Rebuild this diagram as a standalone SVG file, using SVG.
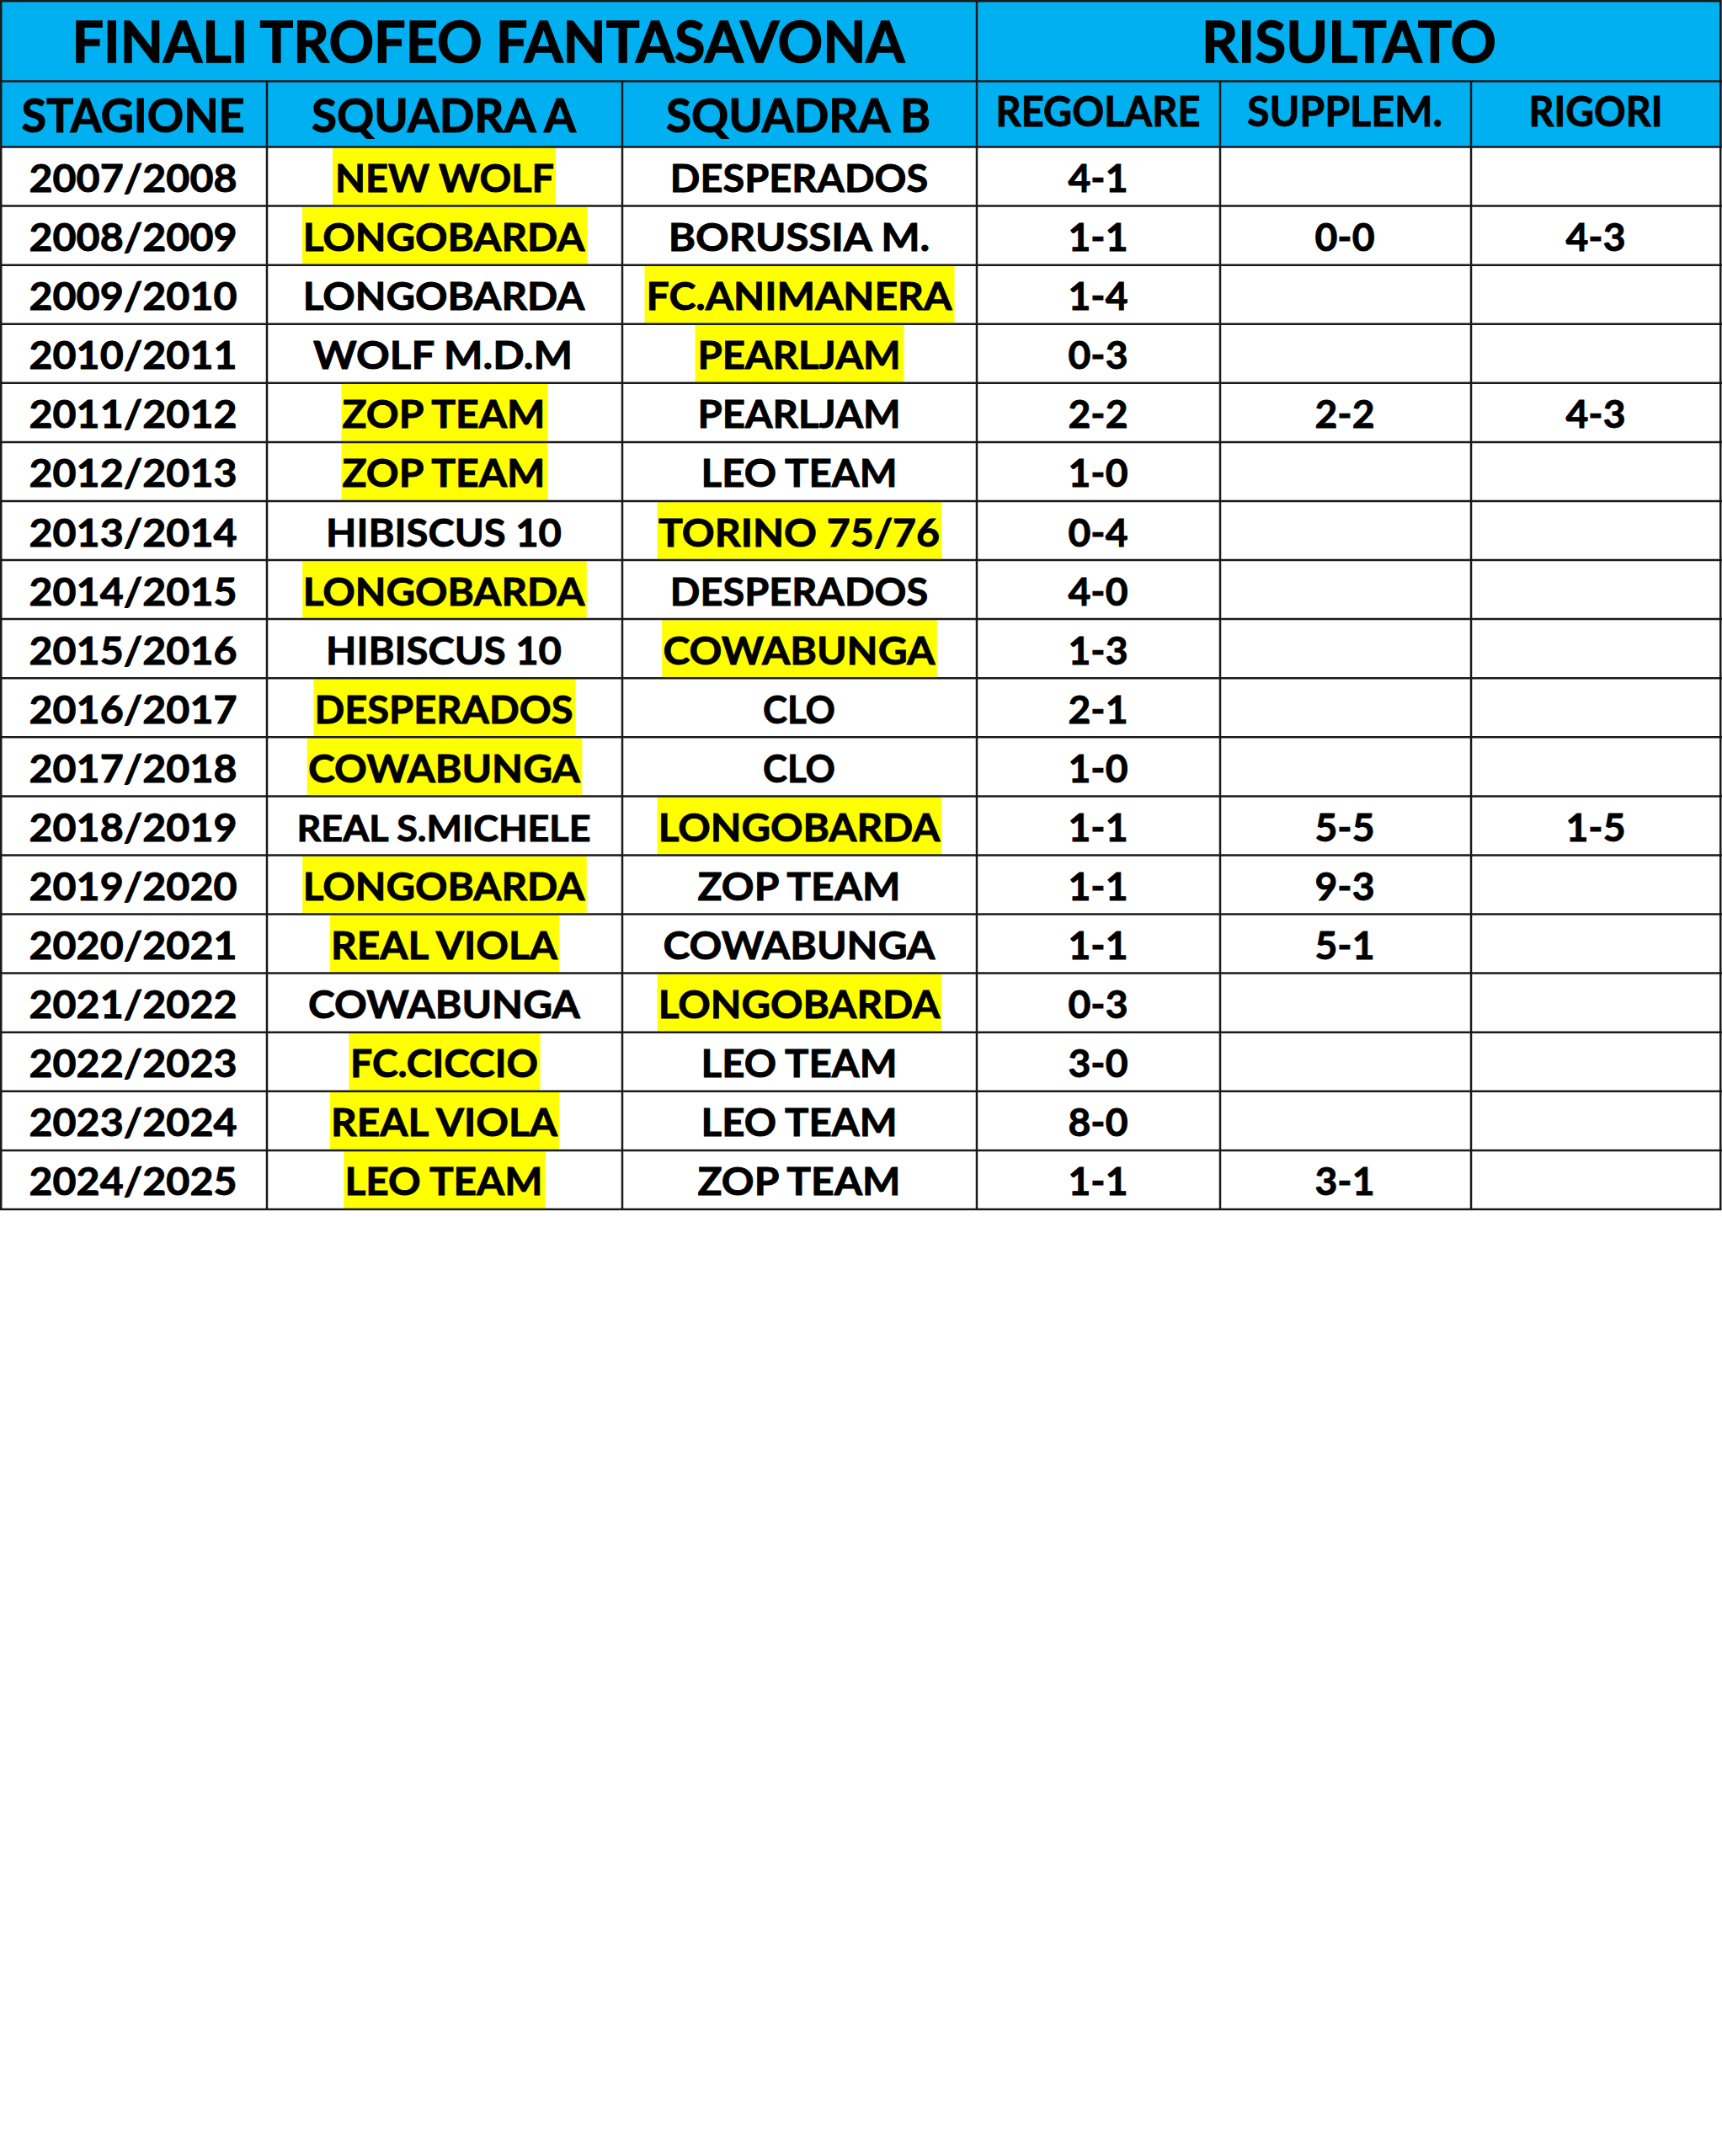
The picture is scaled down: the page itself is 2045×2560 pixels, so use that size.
<svg xmlns="http://www.w3.org/2000/svg" width="2045" height="2560" viewBox="0 0 2045 2560">
<style>
text{font-family:Lato,"Liberation Sans",sans-serif;font-weight:bold;fill:#000;stroke:#000;stroke-width:0.9;text-anchor:middle}
.t{font-size:66px;stroke-width:1.3}
.h{font-size:55px;stroke-width:1.1}
.hs{font-size:49px}
.d{font-size:46.5px}
.ds{font-size:42px}
.hl{fill:#FFFF00}
.g{stroke:#1a1a1a;stroke-width:2.5;fill:none}
</style>
<rect x="0" y="0" width="2045" height="2560" fill="#FFFFFF"/>
<g id="header">
<rect x="0" y="0" width="2045" height="174.5" fill="#00B0F0"/>
<text class="t" x="580" y="74" textLength="989" lengthAdjust="spacingAndGlyphs">FINALI TROFEO FANTASAVONA</text>
<text class="t" x="1602" y="74" textLength="350" lengthAdjust="spacingAndGlyphs">RISULTATO</text>
<text class="h" x="158" y="156.7" textLength="265" lengthAdjust="spacingAndGlyphs">STAGIONE</text>
<text class="h" x="527" y="156.7" textLength="314" lengthAdjust="spacingAndGlyphs">SQUADRA A</text>
<text class="h" x="948" y="156.7" textLength="314" lengthAdjust="spacingAndGlyphs">SQUADRA B</text>
<text class="hs" x="1304" y="150" textLength="243" lengthAdjust="spacingAndGlyphs">REGOLARE</text>
<text class="hs" x="1597" y="150" textLength="232" lengthAdjust="spacingAndGlyphs">SUPPLEM.</text>
<text class="hs" x="1895" y="150" textLength="159" lengthAdjust="spacingAndGlyphs">RIGORI</text>
</g>
<g id="highlights">
<rect class="hl" x="395" y="175.7" width="265" height="68"/>
<rect class="hl" x="359" y="245.8" width="338" height="68"/>
<rect class="hl" x="765.5" y="315.9" width="368" height="68"/>
<rect class="hl" x="825.5" y="385.9" width="248" height="68"/>
<rect class="hl" x="405.5" y="456" width="245" height="68"/>
<rect class="hl" x="405.5" y="526.1" width="245" height="68"/>
<rect class="hl" x="780.7" y="596.2" width="337.5" height="68"/>
<rect class="hl" x="359.2" y="666.3" width="337.5" height="68"/>
<rect class="hl" x="786.2" y="736.3" width="326.6" height="68"/>
<rect class="hl" x="372.5" y="806.4" width="311" height="68"/>
<rect class="hl" x="364.7" y="876.5" width="326.6" height="68"/>
<rect class="hl" x="780.7" y="946.6" width="337.5" height="68"/>
<rect class="hl" x="359.2" y="1016.7" width="337.5" height="68"/>
<rect class="hl" x="392" y="1086.7" width="272" height="68"/>
<rect class="hl" x="780.7" y="1156.8" width="337.5" height="68"/>
<rect class="hl" x="414.5" y="1226.9" width="227" height="68"/>
<rect class="hl" x="392" y="1297" width="272" height="68"/>
<rect class="hl" x="408.3" y="1367.1" width="239.4" height="68"/>
</g>
<g id="grid">
<rect class="g" x="1.25" y="1.25" width="2042" height="1434.65"/>
<line class="g" x1="0" y1="96.5" x2="2045" y2="96.5"/>
<line class="g" x1="1160" y1="0" x2="1160" y2="1436"/>
<line class="g" x1="317" y1="96.5" x2="317" y2="1436"/>
<line class="g" x1="739" y1="96.5" x2="739" y2="1436"/>
<line class="g" x1="1449" y1="96.5" x2="1449" y2="1436"/>
<line class="g" x1="1747" y1="96.5" x2="1747" y2="1436"/>
<line class="g" x1="0" y1="174.5" x2="2045" y2="174.5"/>
<line class="g" x1="0" y1="244.6" x2="2045" y2="244.6"/>
<line class="g" x1="0" y1="314.7" x2="2045" y2="314.7"/>
<line class="g" x1="0" y1="384.7" x2="2045" y2="384.7"/>
<line class="g" x1="0" y1="454.8" x2="2045" y2="454.8"/>
<line class="g" x1="0" y1="524.9" x2="2045" y2="524.9"/>
<line class="g" x1="0" y1="595" x2="2045" y2="595"/>
<line class="g" x1="0" y1="665.1" x2="2045" y2="665.1"/>
<line class="g" x1="0" y1="735.1" x2="2045" y2="735.1"/>
<line class="g" x1="0" y1="805.2" x2="2045" y2="805.2"/>
<line class="g" x1="0" y1="875.3" x2="2045" y2="875.3"/>
<line class="g" x1="0" y1="945.4" x2="2045" y2="945.4"/>
<line class="g" x1="0" y1="1015.5" x2="2045" y2="1015.5"/>
<line class="g" x1="0" y1="1085.5" x2="2045" y2="1085.5"/>
<line class="g" x1="0" y1="1155.6" x2="2045" y2="1155.6"/>
<line class="g" x1="0" y1="1225.7" x2="2045" y2="1225.7"/>
<line class="g" x1="0" y1="1295.8" x2="2045" y2="1295.8"/>
<line class="g" x1="0" y1="1365.9" x2="2045" y2="1365.9"/>
</g>
<g id="col-stagione">
<text class="d" x="158" y="228" textLength="247" lengthAdjust="spacingAndGlyphs">2007/2008</text>
<text class="d" x="158" y="298.1" textLength="247" lengthAdjust="spacingAndGlyphs">2008/2009</text>
<text class="d" x="158" y="368.2" textLength="247" lengthAdjust="spacingAndGlyphs">2009/2010</text>
<text class="d" x="158" y="438.2" textLength="247" lengthAdjust="spacingAndGlyphs">2010/2011</text>
<text class="d" x="158" y="508.3" textLength="247" lengthAdjust="spacingAndGlyphs">2011/2012</text>
<text class="d" x="158" y="578.4" textLength="247" lengthAdjust="spacingAndGlyphs">2012/2013</text>
<text class="d" x="158" y="648.5" textLength="247" lengthAdjust="spacingAndGlyphs">2013/2014</text>
<text class="d" x="158" y="718.6" textLength="247" lengthAdjust="spacingAndGlyphs">2014/2015</text>
<text class="d" x="158" y="788.6" textLength="247" lengthAdjust="spacingAndGlyphs">2015/2016</text>
<text class="d" x="158" y="858.7" textLength="247" lengthAdjust="spacingAndGlyphs">2016/2017</text>
<text class="d" x="158" y="928.8" textLength="247" lengthAdjust="spacingAndGlyphs">2017/2018</text>
<text class="d" x="158" y="998.9" textLength="247" lengthAdjust="spacingAndGlyphs">2018/2019</text>
<text class="d" x="158" y="1069" textLength="247" lengthAdjust="spacingAndGlyphs">2019/2020</text>
<text class="d" x="158" y="1139" textLength="247" lengthAdjust="spacingAndGlyphs">2020/2021</text>
<text class="d" x="158" y="1209.1" textLength="247" lengthAdjust="spacingAndGlyphs">2021/2022</text>
<text class="d" x="158" y="1279.2" textLength="247" lengthAdjust="spacingAndGlyphs">2022/2023</text>
<text class="d" x="158" y="1349.3" textLength="247" lengthAdjust="spacingAndGlyphs">2023/2024</text>
<text class="d" x="158" y="1419.4" textLength="247" lengthAdjust="spacingAndGlyphs">2024/2025</text>
</g>
<g id="col-squadra-a">
<text class="d" x="528" y="228" textLength="260" lengthAdjust="spacingAndGlyphs">NEW WOLF</text>
<text class="d" x="527" y="298.1" textLength="334.5" lengthAdjust="spacingAndGlyphs">LONGOBARDA</text>
<text class="d" x="527" y="368.2" textLength="334.5" lengthAdjust="spacingAndGlyphs">LONGOBARDA</text>
<text class="d" x="526" y="438.2" textLength="308" lengthAdjust="spacingAndGlyphs">WOLF M.D.M</text>
<text class="d" x="527" y="508.3" textLength="241" lengthAdjust="spacingAndGlyphs">ZOP TEAM</text>
<text class="d" x="527" y="578.4" textLength="241" lengthAdjust="spacingAndGlyphs">ZOP TEAM</text>
<text class="d" x="527" y="648.5" textLength="280" lengthAdjust="spacingAndGlyphs">HIBISCUS 10</text>
<text class="d" x="527" y="718.6" textLength="334.5" lengthAdjust="spacingAndGlyphs">LONGOBARDA</text>
<text class="d" x="527" y="788.6" textLength="280" lengthAdjust="spacingAndGlyphs">HIBISCUS 10</text>
<text class="d" x="527" y="858.7" textLength="307" lengthAdjust="spacingAndGlyphs">DESPERADOS</text>
<text class="d" x="527.5" y="928.8" textLength="323" lengthAdjust="spacingAndGlyphs">COWABUNGA</text>
<text class="ds" x="527" y="998.9" textLength="349" lengthAdjust="spacingAndGlyphs">REAL S.MICHELE</text>
<text class="d" x="527" y="1069" textLength="334.5" lengthAdjust="spacingAndGlyphs">LONGOBARDA</text>
<text class="d" x="527.5" y="1139" textLength="269" lengthAdjust="spacingAndGlyphs">REAL VIOLA</text>
<text class="d" x="527.5" y="1209.1" textLength="323" lengthAdjust="spacingAndGlyphs">COWABUNGA</text>
<text class="d" x="527.5" y="1279.2" textLength="223" lengthAdjust="spacingAndGlyphs">FC.CICCIO</text>
<text class="d" x="527.5" y="1349.3" textLength="269" lengthAdjust="spacingAndGlyphs">REAL VIOLA</text>
<text class="d" x="527" y="1419.4" textLength="235" lengthAdjust="spacingAndGlyphs">LEO TEAM</text>
</g>
<g id="col-squadra-b">
<text class="d" x="949" y="228" textLength="306.5" lengthAdjust="spacingAndGlyphs">DESPERADOS</text>
<text class="d" x="949" y="298.1" textLength="310.6" lengthAdjust="spacingAndGlyphs">BORUSSIA M.</text>
<text class="d" x="949" y="368.2" textLength="363" lengthAdjust="spacingAndGlyphs">FC.ANIMANERA</text>
<text class="d" x="949" y="438.2" textLength="241" lengthAdjust="spacingAndGlyphs">PEARLJAM</text>
<text class="d" x="949" y="508.3" textLength="241" lengthAdjust="spacingAndGlyphs">PEARLJAM</text>
<text class="d" x="949" y="578.4" textLength="233" lengthAdjust="spacingAndGlyphs">LEO TEAM</text>
<text class="d" x="949" y="648.5" textLength="334" lengthAdjust="spacingAndGlyphs">TORINO 75/76</text>
<text class="d" x="949" y="718.6" textLength="306.5" lengthAdjust="spacingAndGlyphs">DESPERADOS</text>
<text class="d" x="949" y="788.6" textLength="323" lengthAdjust="spacingAndGlyphs">COWABUNGA</text>
<text class="d" x="949" y="858.7" textLength="86" lengthAdjust="spacingAndGlyphs">CLO</text>
<text class="d" x="949" y="928.8" textLength="86" lengthAdjust="spacingAndGlyphs">CLO</text>
<text class="d" x="949" y="998.9" textLength="334.5" lengthAdjust="spacingAndGlyphs">LONGOBARDA</text>
<text class="d" x="949" y="1069" textLength="241" lengthAdjust="spacingAndGlyphs">ZOP TEAM</text>
<text class="d" x="949" y="1139" textLength="323" lengthAdjust="spacingAndGlyphs">COWABUNGA</text>
<text class="d" x="949" y="1209.1" textLength="334.5" lengthAdjust="spacingAndGlyphs">LONGOBARDA</text>
<text class="d" x="949" y="1279.2" textLength="233" lengthAdjust="spacingAndGlyphs">LEO TEAM</text>
<text class="d" x="949" y="1349.3" textLength="233" lengthAdjust="spacingAndGlyphs">LEO TEAM</text>
<text class="d" x="949" y="1419.4" textLength="241" lengthAdjust="spacingAndGlyphs">ZOP TEAM</text>
</g>
<g id="col-regolare">
<text class="d" x="1304" y="228" textLength="71" lengthAdjust="spacingAndGlyphs">4-1</text>
<text class="d" x="1304" y="298.1" textLength="71" lengthAdjust="spacingAndGlyphs">1-1</text>
<text class="d" x="1304" y="368.2" textLength="71" lengthAdjust="spacingAndGlyphs">1-4</text>
<text class="d" x="1304" y="438.2" textLength="71" lengthAdjust="spacingAndGlyphs">0-3</text>
<text class="d" x="1304" y="508.3" textLength="71" lengthAdjust="spacingAndGlyphs">2-2</text>
<text class="d" x="1304" y="578.4" textLength="71" lengthAdjust="spacingAndGlyphs">1-0</text>
<text class="d" x="1304" y="648.5" textLength="71" lengthAdjust="spacingAndGlyphs">0-4</text>
<text class="d" x="1304" y="718.6" textLength="71" lengthAdjust="spacingAndGlyphs">4-0</text>
<text class="d" x="1304" y="788.6" textLength="71" lengthAdjust="spacingAndGlyphs">1-3</text>
<text class="d" x="1304" y="858.7" textLength="71" lengthAdjust="spacingAndGlyphs">2-1</text>
<text class="d" x="1304" y="928.8" textLength="71" lengthAdjust="spacingAndGlyphs">1-0</text>
<text class="d" x="1304" y="998.9" textLength="71" lengthAdjust="spacingAndGlyphs">1-1</text>
<text class="d" x="1304" y="1069" textLength="71" lengthAdjust="spacingAndGlyphs">1-1</text>
<text class="d" x="1304" y="1139" textLength="71" lengthAdjust="spacingAndGlyphs">1-1</text>
<text class="d" x="1304" y="1209.1" textLength="71" lengthAdjust="spacingAndGlyphs">0-3</text>
<text class="d" x="1304" y="1279.2" textLength="71" lengthAdjust="spacingAndGlyphs">3-0</text>
<text class="d" x="1304" y="1349.3" textLength="71" lengthAdjust="spacingAndGlyphs">8-0</text>
<text class="d" x="1304" y="1419.4" textLength="71" lengthAdjust="spacingAndGlyphs">1-1</text>
</g>
<g id="col-supplem">
<text class="d" x="1597" y="298.1" textLength="71" lengthAdjust="spacingAndGlyphs">0-0</text>
<text class="d" x="1597" y="508.3" textLength="71" lengthAdjust="spacingAndGlyphs">2-2</text>
<text class="d" x="1597" y="998.9" textLength="71" lengthAdjust="spacingAndGlyphs">5-5</text>
<text class="d" x="1597" y="1069" textLength="71" lengthAdjust="spacingAndGlyphs">9-3</text>
<text class="d" x="1597" y="1139" textLength="71" lengthAdjust="spacingAndGlyphs">5-1</text>
<text class="d" x="1597" y="1419.4" textLength="71" lengthAdjust="spacingAndGlyphs">3-1</text>
</g>
<g id="col-rigori">
<text class="d" x="1895" y="298.1" textLength="71" lengthAdjust="spacingAndGlyphs">4-3</text>
<text class="d" x="1895" y="508.3" textLength="71" lengthAdjust="spacingAndGlyphs">4-3</text>
<text class="d" x="1895" y="998.9" textLength="71" lengthAdjust="spacingAndGlyphs">1-5</text>
</g>
</svg>
